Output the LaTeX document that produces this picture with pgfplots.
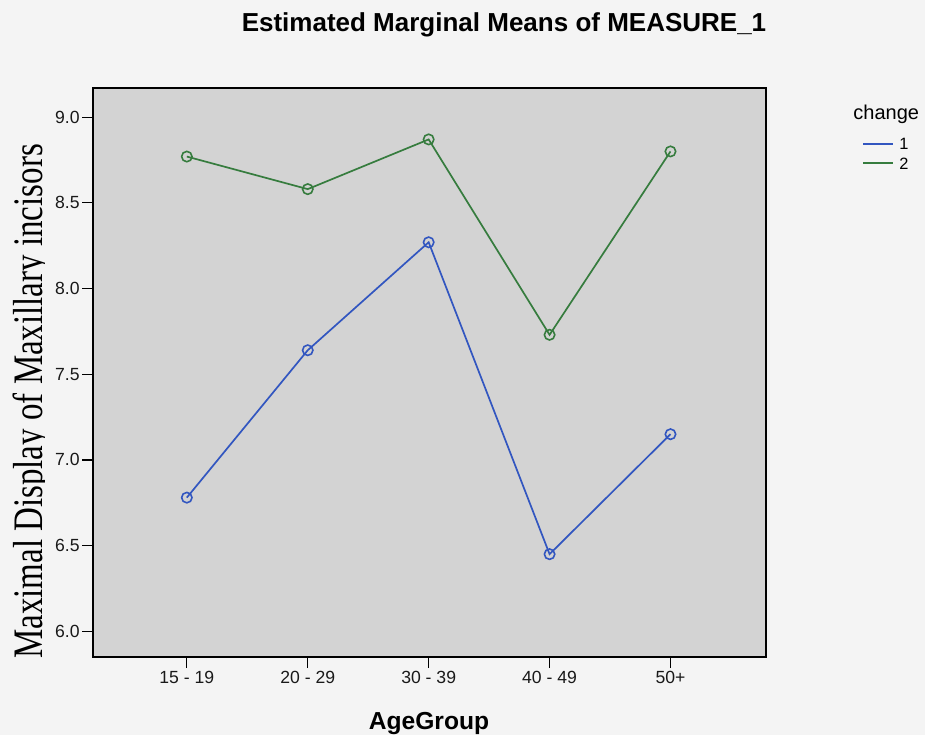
\documentclass[border=0pt]{standalone}
\usepackage{fontspec}
\setmainfont{Liberation Sans}
\newfontfamily\seriffont{Liberation Serif}
\usepackage{graphicx}
\usepackage{pgfplots}
\pgfplotsset{compat=1.18}
\definecolor{spssblue}{RGB}{50,86,192}
\definecolor{spssgreen}{RGB}{54,124,62}
\definecolor{plotbg}{RGB}{211,211,211}
\definecolor{pagebg}{RGB}{244,244,244}

\pgfplotstableread{
x blue green
0 6.78 8.77
1 7.64 8.58
2 8.27 8.87
3 6.45 7.73
4 7.15 8.80
}\meanstable

\begin{document}
\begin{tikzpicture}[x=0.5pt,y=0.5pt]
\path[use as bounding box, fill=pagebg] (0,0) rectangle (925,735);
\begin{axis}[
  at={(46.5pt,39pt)}, anchor=south west,
  scale only axis, width=336.5pt, height=284.5pt,
  xmin=-0.776, xmax=4.79, ymin=5.85, ymax=9.17,
  xtick={0,1,2,3,4},
  xticklabels={15 - 19,20 - 29,30 - 39,40 - 49,50+},
  ytick={6,6.5,7,7.5,8,8.5,9},
  /pgf/number format/.cd, fixed, fixed zerofill, precision=1, assume math mode=true,
  /pgfplots/.cd,
  tick align=outside, xtick pos=bottom, ytick pos=left,
  major tick length=5.5pt,
  tick style={black, line width=0.6pt},
  axis line style={black, line width=0.7pt},
  axis background/.style={fill=plotbg},
  ticklabel style={font=\fontsize{8.8}{10}\selectfont, text=black!90},
  yticklabel style={inner sep=1pt},
  xticklabel style={inner sep=1.5pt},
  clip=false,
]
\addplot[spssblue, line width=0.85pt, mark=o, mark size=2.6pt, mark options={line width=0.8pt}] table[x=x, y=blue] {\meanstable};
\addplot[spssgreen, line width=0.85pt, mark=o, mark size=2.6pt, mark options={line width=0.8pt}] table[x=x, y=green] {\meanstable};
\end{axis}
% title
\node[anchor=base, font=\bfseries\fontsize{13}{15}\selectfont] at (504,703.3) {Estimated Marginal Means of MEASURE\_1};
% x label
\node[anchor=base, font=\bfseries\fontsize{12.3}{14}\selectfont] at (429,6) {AgeGroup};
% y label (descenders clipped as in the reference)
\begin{scope}
\clip (0,0) rectangle (44,735);
\node[anchor=base, rotate=90, inner sep=0pt] at (42.5,333.5) {\scalebox{0.785}[1]{\seriffont\fontsize{21}{24}\selectfont Maximal Display of Maxillary incisors}};
\end{scope}
% legend
\node[anchor=base west, inner sep=0pt, font=\fontsize{10}{12}\selectfont] at (853,615.7) {change};
\draw[spssblue, line width=0.9pt] (863,591) -- (893,591);
\node[anchor=west, inner sep=0pt, font=\fontsize{8.2}{10}\selectfont] at (899,591) {1};
\draw[spssgreen, line width=0.9pt] (863,571.7) -- (893,571.7);
\node[anchor=west, inner sep=0pt, font=\fontsize{8.2}{10}\selectfont] at (899,571.7) {2};
\end{tikzpicture}
\end{document}
